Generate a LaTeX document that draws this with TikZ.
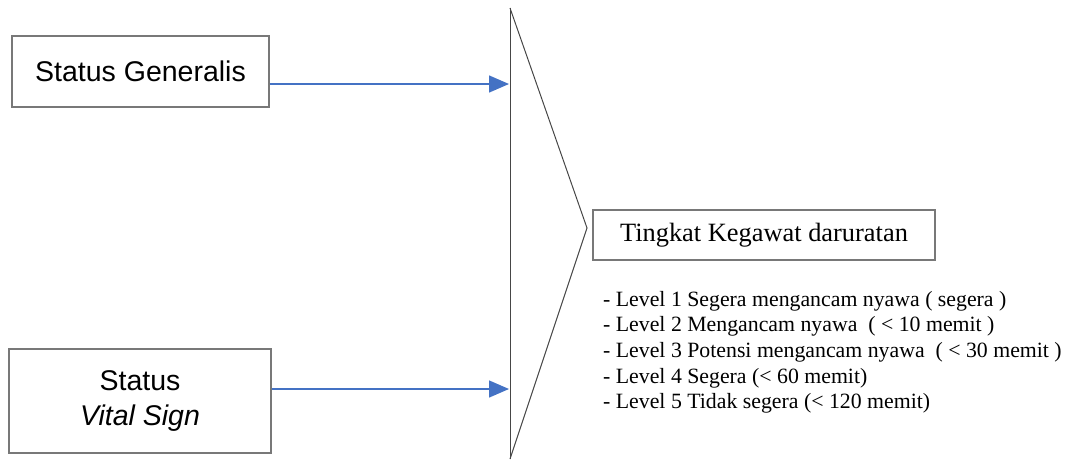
\documentclass[tikz,border=0pt]{standalone}
\usepackage{fontspec}
\setmainfont{Liberation Serif}
\setsansfont{Liberation Sans}
\usetikzlibrary{arrows.meta}
\definecolor{arrowblue}{RGB}{68,114,196}
\definecolor{boxgrey}{RGB}{120,120,120}
\definecolor{linegrey}{RGB}{70,70,70}
\begin{document}
\begin{tikzpicture}[x=1pt,y=-1pt,
  inbox/.style={draw=boxgrey,line width=1.1pt,fill=white,inner sep=0pt,
    font=\sffamily\fontsize{28.5}{34.5}\selectfont,align=center},
  flow/.style={draw=arrowblue,line width=1.4pt,
    -{Triangle[length=20pt,width=17pt]}},
  funnel/.style={draw=linegrey,line width=1pt,line join=miter}]
  \useasboundingbox (0,0) rectangle (1073,461);
  % input boxes
  \node[inbox,minimum width=257pt,minimum height=71pt] (gen) at (140.5,71.5) {Status Generalis};
  \node[inbox,minimum width=262pt,minimum height=104pt] (vital) at (140,401) {Status\\\textit{Vital Sign}};
  % collecting funnel
  \coordinate (ftop) at (510,8);
  \coordinate (fbot) at (510,459);
  \coordinate (fapex) at (587,228);
  \draw[funnel] (ftop) -- (fbot);
  \draw[funnel] (ftop) -- (fapex) -- (fbot);
  % arrows into the funnel
  \coordinate (ingen) at (509,84);
  \coordinate (invital) at (509,389);
  \draw[flow] (gen.east |- ingen) -- (ingen);
  \draw[flow] (vital.east |- invital) -- (invital);
  % output
  \node[draw=boxgrey,line width=1.1pt,minimum width=342pt,minimum height=50pt,inner sep=0pt,
    font=\fontsize{26.4}{30}\selectfont] (out) at (764,235) {Tingkat Kegawat daruratan};
  \node[anchor=north west,inner sep=0pt,align=left,
    font=\fontsize{21.8}{25.6}\selectfont] (levels) at (603,291) {%
    - Level 1 Segera mengancam nyawa ( segera )\\
    - Level 2 Mengancam nyawa~ ( < 10 memit )\\
    - Level 3 Potensi mengancam nyawa~ ( < 30 memit )\\
    - Level 4 Segera (< 60 memit)\\
    - Level 5 Tidak segera (< 120 memit)};
\end{tikzpicture}
\end{document}
